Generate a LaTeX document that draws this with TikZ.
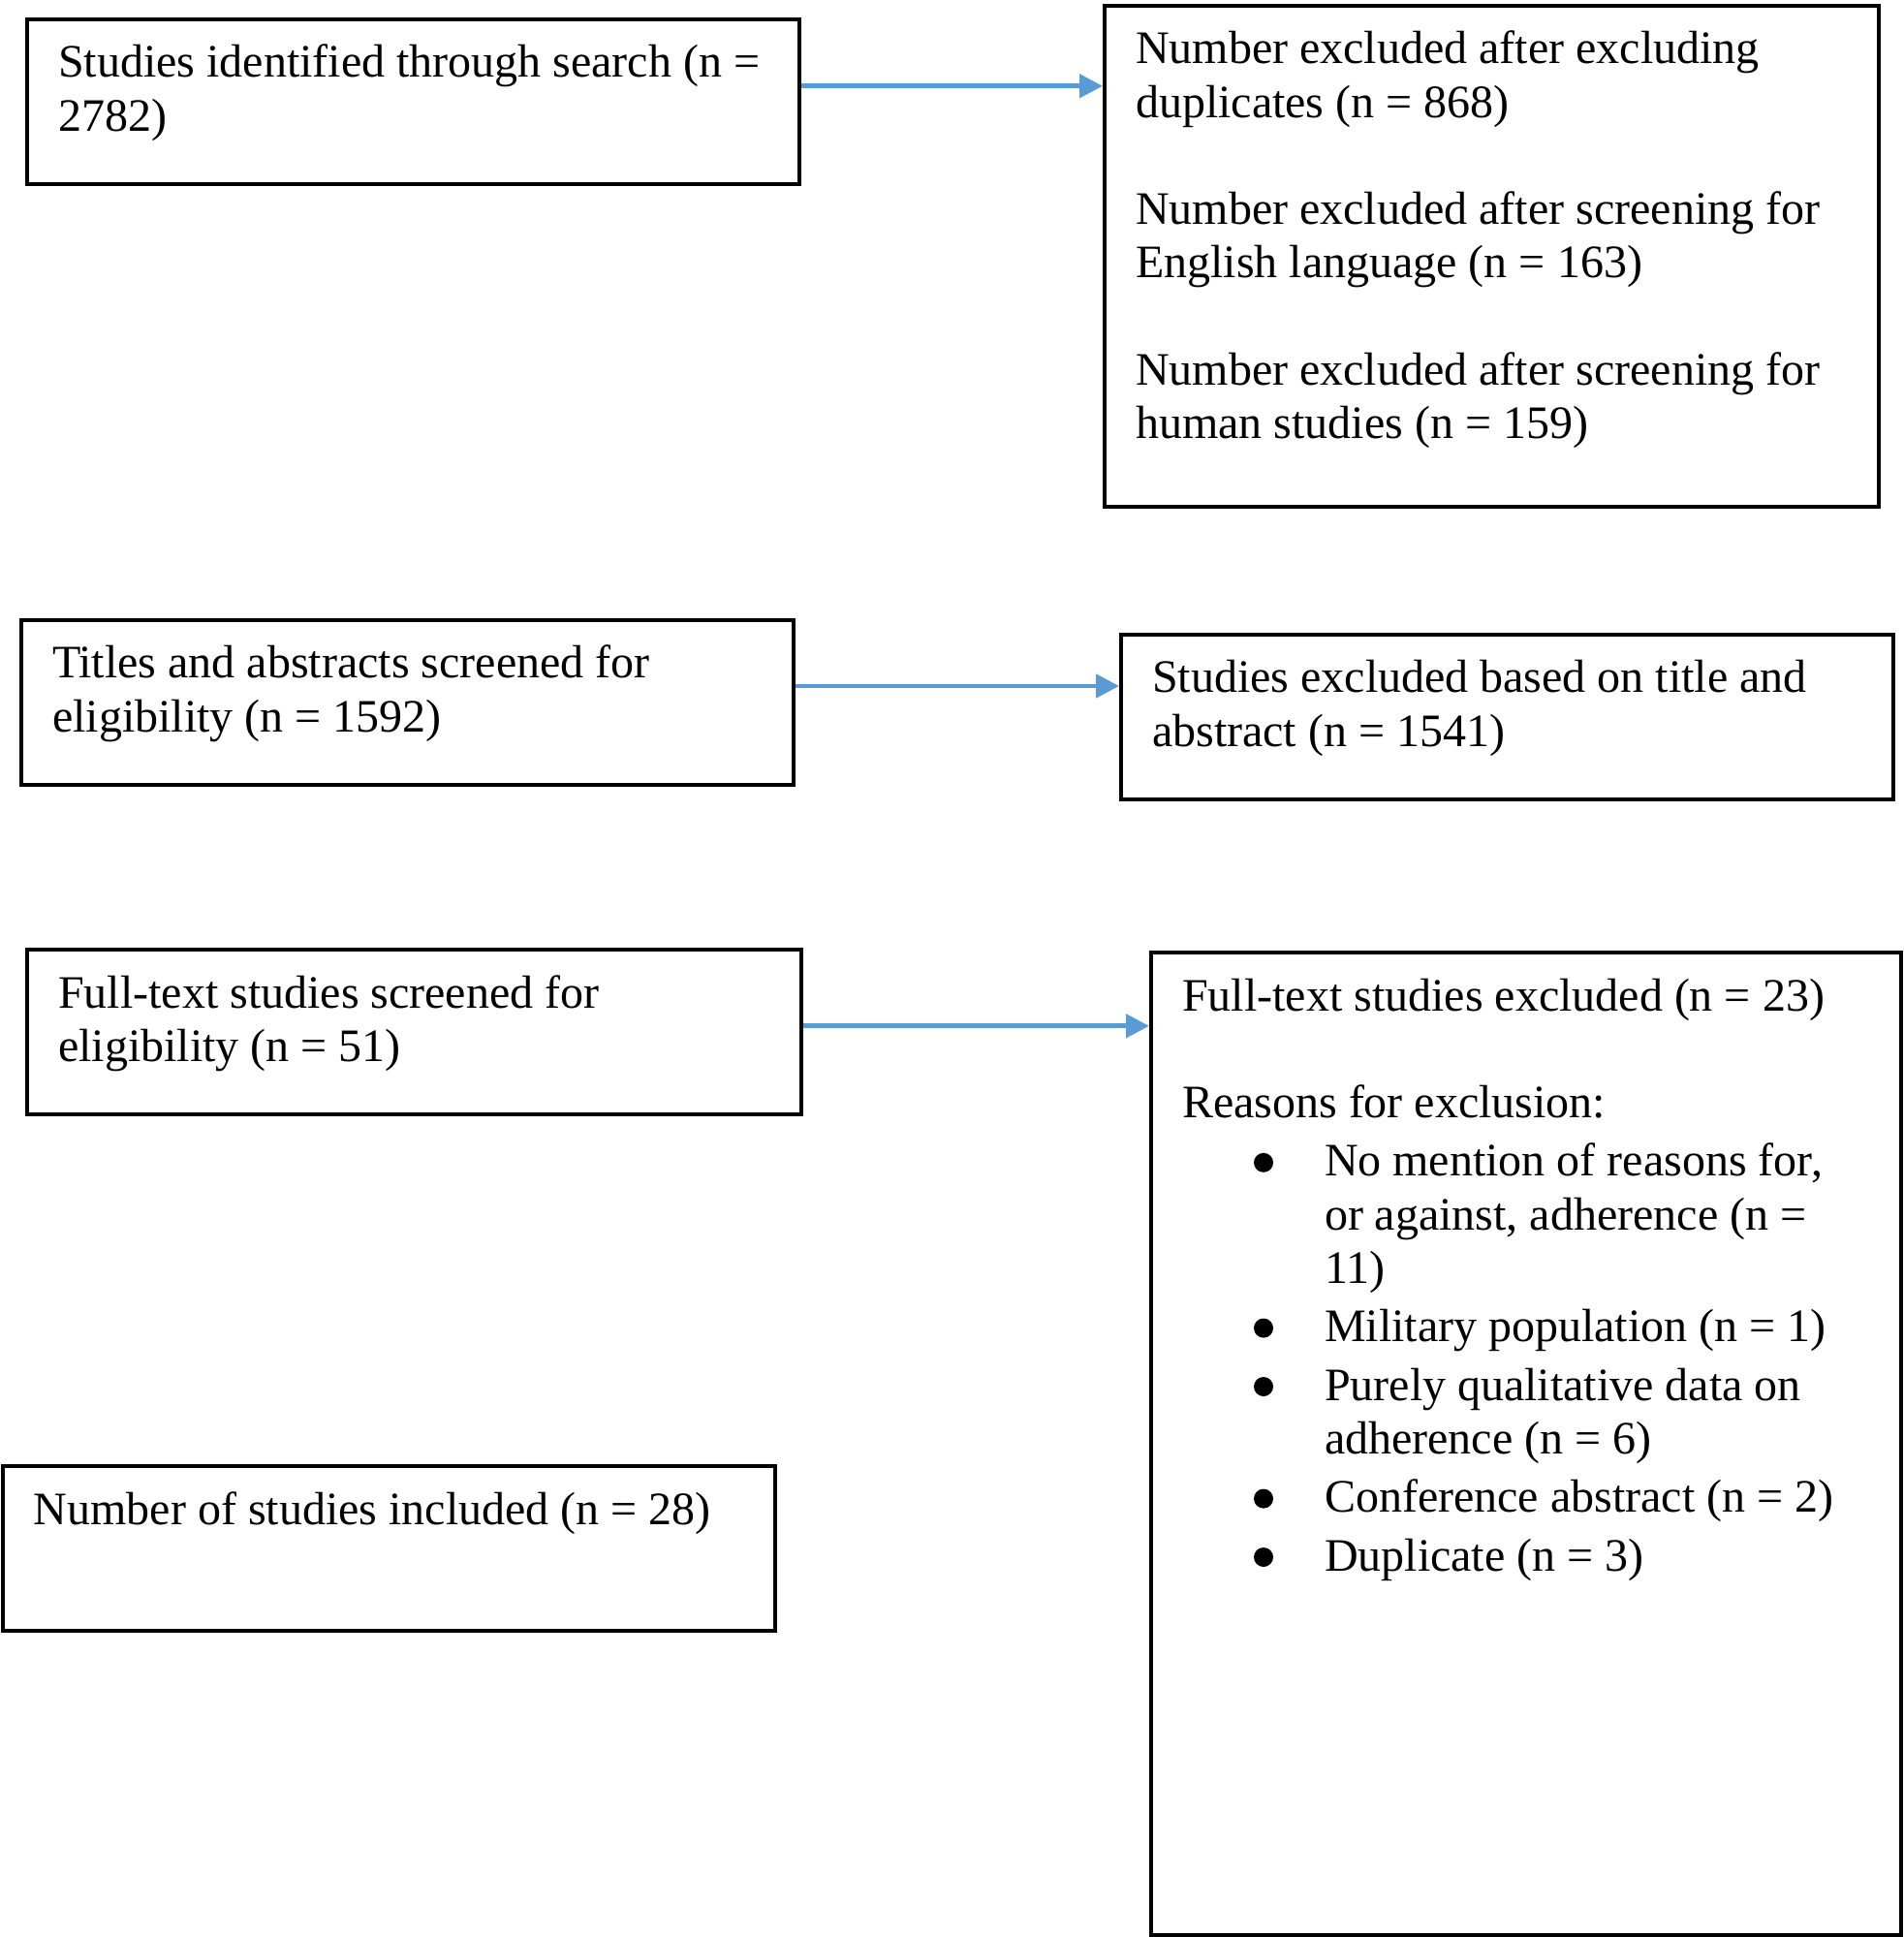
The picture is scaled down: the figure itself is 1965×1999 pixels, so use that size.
\documentclass[tikz,border=0pt]{standalone}
\usepackage{fontspec}
\setmainfont{Liberation Serif}
\usetikzlibrary{arrows.meta, calc}

\definecolor{flowblue}{HTML}{5B9BD5}
\newcommand{\bitem}[1]{\par\vspace{1.3pt}\noindent\hangindent=36.75pt\hangafter=1\hspace*{18.5pt}\makebox[18.25pt][l]{\tikz[baseline=0pt]\fill (0,3.5pt) circle (2.5pt);}#1}

\tikzset{
  box/.style={draw, line width=1pt, anchor=north west, align=flush left,
    inner xsep=8pt, inner ysep=0pt, text height=15pt,
    font=\fontsize{12}{13.8}\selectfont},
  flow/.style={draw=flowblue, line width=1.2pt, -{Triangle[length=6pt,width=6pt]}}
}

\begin{document}
\begin{tikzpicture}[x=0.25pt, y=-0.25pt]
        \useasboundingbox (0,0) rectangle (1965,1999);

        % left column
        \node[box, text width=183.25pt, text depth=27.4pt] (search) at (26,18)
            {Studies identified through search (n =\\ 2782)};
        \node[box, text width=183.25pt, text depth=27.4pt] (screen) at (20,638)
            {Titles and abstracts screened for\\ eligibility (n = 1592)};
        \node[box, text width=183.75pt, text depth=27.4pt] (fulltext) at (26,978)
            {Full-text studies screened for\\ eligibility (n = 51)};
        \node[box, text width=183.25pt, text depth=27.4pt] (included) at (1,1511)
            {Number of studies included (n = 28)};

        % right column
        \node[box, text width=183.75pt, text depth=114.2pt] (dupl) at (1138,4)
            {Number excluded after excluding\\ duplicates (n = 868)\\[13.8pt]
             Number excluded after screening for\\ English language (n = 163)\\[13.8pt]
             Number excluded after screening for\\ human studies (n = 159)};
        \node[box, text width=183.25pt, text depth=27.4pt] (exclTA) at (1155,653)
            {Studies excluded based on title and\\ abstract (n = 1541)};
        \node[box, text width=177.5pt, text depth=238.6pt] (exclFT) at (1186,981)
            {Full-text studies excluded (n = 23)\\[13.8pt]
             Reasons for exclusion:
             \bitem{No mention of reasons for,\newline or against, adherence (n =\newline 11)}
             \bitem{Military population (n = 1)}
             \bitem{Purely qualitative data on\newline adherence (n = 6)}
             \bitem{Conference abstract (n = 2)}
             \bitem{Duplicate (n = 3)}};

        % arrows
        \coordinate (s1) at ([yshift=4pt]search.east);
        \coordinate (s2) at ([yshift=4.2pt]screen.east);
        \coordinate (s3) at ([yshift=1.5pt]fulltext.east);

        \draw[flow] (s1) -- (s1 -| dupl.west);
        \draw[flow] (s2) -- (s2 -| exclTA.west);
        \draw[flow] (s3) -- (s3 -| exclFT.west);

    \end{tikzpicture}
\end{document}
